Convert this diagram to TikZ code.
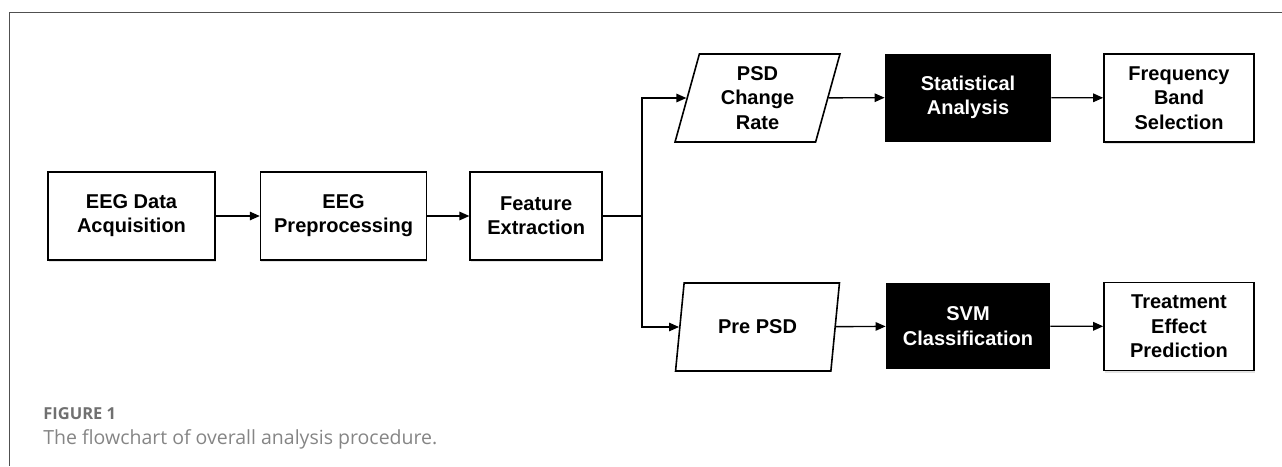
\documentclass[tikz,border=0pt]{standalone}
\usepackage{fontspec}
\newfontfamily\boxfont{Liberation Sans}
\newfontfamily\capfont{Open Sans}
\usetikzlibrary{positioning,shapes.geometric,arrows.meta,shadows}
\definecolor{framegray}{HTML}{505050}
\definecolor{capgray}{HTML}{707070}

\begin{document}
\begin{tikzpicture}[x=1pt, y=-1pt, node distance=44pt,
                    thick,
                    stepbox/.style={rectangle, draw, fill=white, line width=1.6pt, minimum height=88pt,
                        align=center, font=\boxfont\fontsize{20}{24}\selectfont\bfseries,
                        drop shadow={shadow xshift=0.6pt, shadow yshift=-2.2pt, opacity=0.22}},
                    darkbox/.style={rectangle, fill=black, text=white, minimum height=88pt, minimum width=166pt,
                        align=center, font=\boxfont\fontsize{20}{24.5}\selectfont\bfseries},
                    databox/.style={trapezium, trapezium left angle=76.5, trapezium right angle=103.5,
                        trapezium stretches=true, draw, line width=1.6pt, minimum width=165pt, minimum height=88pt,
                        align=center, font=\boxfont\fontsize{20}{24.5}\selectfont\bfseries},
                    flow/.style={line width=1.4pt, -{Triangle[length=10pt,width=8.5pt]}}]

\useasboundingbox (0,0) rectangle (1282,466);

% frame
\draw[framegray, line width=0.9pt] (1282,12) -- (9,12) -- (9,466);

\node[stepbox, minimum width=167pt] (Acq) at (131.5,216) {EEG Data\\Acquisition};
\node[stepbox, minimum width=166pt] (Prep) [right=44pt of Acq] {EEG\\Preprocessing};
\node[stepbox, minimum width=132pt] (Feat) [right=42pt of Prep] {Feature\\Extraction};

\node[databox] (Rate) at (757.5,98) {PSD\\Change\\Rate};
\node[databox] (PrePSD) at (757.5,327) {Pre PSD};
\node[darkbox] (Stat) at (968,97.5) {Statistical\\Analysis};
\node[darkbox, minimum height=86pt, minimum width=164pt] (SVM) at (968,326) {SVM\\Classification};
\node[stepbox, minimum width=150pt, font=\boxfont\fontsize{20}{24.5}\selectfont\bfseries] (Freq) at (1179,98) {Frequency\\Band\\Selection};
\node[stepbox, minimum width=150pt, font=\boxfont\fontsize{20}{24.5}\selectfont\bfseries] (Treat) at (1179,326.5) {Treatment\\Effect\\Prediction};

\coordinate (Split) at (642,216);

\draw[flow] (Acq) -- (Prep);
\draw[flow] (Prep) -- (Feat);
\draw[line width=1.4pt] (Feat) -- (Split);
\draw[flow] (Split) |- (Rate);
\draw[flow] (Split) |- (PrePSD);
\draw[flow] (Rate) -- (Stat);
\draw[flow] (Stat) -- (Freq);
\draw[flow] (PrePSD) -- (SVM);
\draw[flow] (SVM) -- (Treat);

% caption
\node[anchor=base west, inner sep=0pt, text=capgray, font=\capfont\fontsize{16.5}{18}\selectfont\bfseries] (FigNo) at (43,419) {FIGURE 1};
\node[anchor=base west, inner sep=0pt, text=capgray!85, font=\capfont\fontsize{19.5}{22}\selectfont] (Cap) at (43,444) {The flowchart of overall analysis procedure.};
\end{tikzpicture}
\end{document}
